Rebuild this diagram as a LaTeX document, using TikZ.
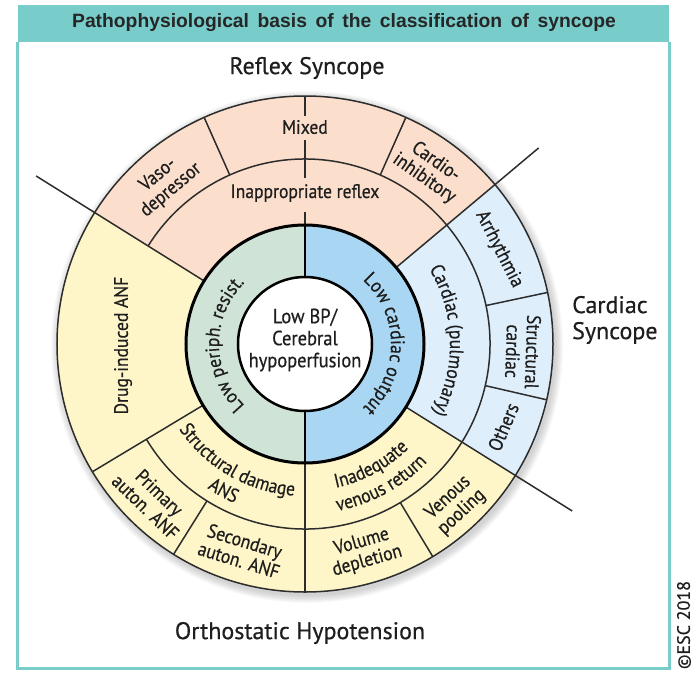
\documentclass[tikz,border=0pt]{standalone}
\usepackage{fontspec}
\setmainfont{PT Sans}
\newfontfamily\dfont{PT Sans}[FakeStretch=0.9, FakeBold=0.5]
\newfontfamily\hfont{PT Sans}[FakeBold=0.5]
\newfontfamily\tfont{Liberation Sans}[WordSpace=1.6]
\usetikzlibrary{decorations.text}
\definecolor{tealc}{RGB}{120,205,203}
\definecolor{peach}{RGB}{251,222,203}
\definecolor{yell}{RGB}{254,246,200}
\definecolor{lblue}{RGB}{222,239,251}
\definecolor{rgreen}{RGB}{207,228,214}
\definecolor{rblue}{RGB}{168,214,243}
\definecolor{linec}{RGB}{45,45,45}
\definecolor{txt}{RGB}{30,30,30}
\newcommand\lbl{\dfont\fontsize{19.5}{20}\selectfont}
\newcommand\hdg{\hfont\fontsize{24}{26}\selectfont}
\begin{document}
\begin{tikzpicture}[x=1pt,y=1pt,
  ln/.style={draw=linec, line width=1.5pt},
  thk/.style={draw=black, line width=3pt},
  lab/.style={text=txt, font=\lbl, align=center, inner sep=0pt},
  hd/.style={text=txt, font=\hdg, align=center, inner sep=0pt},
  curv/.style={decorate, decoration={text along path, text align=center, text color=txt, text={|\lbl|#1}}}
]
\def\Rz{67pt}\def\Ra{119pt}\def\Rb{185pt}\def\Rc{248pt}
\useasboundingbox (-305,-342) rectangle (393,344);
% frame and title bar
\fill[tealc] (-287,302) rectangle (364,339);
\draw[tealc, line width=3pt] (-287,302) -- (-287,-324) -- (364,-324) -- (364,302);
\node[font=\tfont\bfseries\fontsize{19.3}{20}\selectfont, text=black!85] (title) at (39,321) {Pathophysiological basis of the classification of syncope};
% shadow
\foreach \i in {1,...,8} {\fill[black,opacity=0.022] (2pt,-3pt) circle ({(248+\i)*1pt});}
% sector fills
\fill[peach] (40:\Ra) -- (40:\Rc) arc[start angle=40,end angle=148,radius=\Rc] -- (148:\Ra) arc[start angle=148,end angle=40,radius=\Ra] -- cycle;
\fill[yell] (148:\Ra) -- (148:\Rc) arc[start angle=148,end angle=328,radius=\Rc] -- (328:\Ra) arc[start angle=328,end angle=148,radius=\Ra] -- cycle;
\fill[lblue] (-32:\Ra) -- (-32:\Rc) arc[start angle=-32,end angle=40,radius=\Rc] -- (40:\Ra) arc[start angle=40,end angle=-32,radius=\Ra] -- cycle;
\fill[rgreen] (90:\Ra) arc[start angle=90,end angle=270,radius=\Ra] -- cycle;
\fill[rblue] (270:\Ra) arc[start angle=270,end angle=450,radius=\Ra] -- cycle;
\fill[white] (0,0) circle (\Rz);
% outer circle and middle arcs
\draw[ln] (0,0) circle (\Rc);
\draw[ln] (211:\Rb) arc[start angle=211,end angle=508,radius=\Rb];
% main radial lines
\draw[ln] (148:\Ra) -- (148:317pt);
\draw[ln] (40:\Ra) -- (40:305pt);
\draw[ln] (-32:\Ra) -- (-32:315pt);
\draw[ln] (211:\Ra) -- (211:\Rc);
% vertical lines
\draw[ln] (90:\Ra) -- (90:132pt);
\draw[ln] (90:166pt) -- (90:204pt);
\draw[ln] (90:228pt) -- (90:\Rc);
\draw[ln] (270:\Ra) -- (270:\Rc);
\draw[draw=black, line width=2pt] (90:\Rz) -- (90:\Ra);
\draw[draw=black, line width=2pt] (270:\Rz) -- (270:\Ra);
% outer ring dividers
\foreach \a in {114,66,12,-13,238,301} {\draw[ln] (\a:\Rb) -- (\a:\Rc);}
% thick circles
\draw[thk] (0,0) circle (\Ra);
\draw[draw=black, line width=2.5pt] (0,0) circle (\Rz);
% headings
\node[hd] (reflex) at (2,276) {Reflex Syncope};
\node[hd, align=left, anchor=west] (cardiac) at (267,24) {Cardiac\\Syncope};
\node[hd] (ortho) at (-5,-289) {Orthostatic Hypotension};
\node[text=txt, font=\hfont\fontsize{18}{20}\selectfont, rotate=90, inner sep=0pt] (esc) at (379,-281) {\textcopyright ESC 2018};
% center
\node[lab, font=\dfont\fontsize{20.5}{22}\selectfont] (center) at (0,4) {Low BP/\\Cerebral\\hypoperfusion};
% straight labels
\node[lab] (mixed) at (90:217pt) {Mixed};
\node[lab] (inapp) at (90:151pt) {Inappropriate reflex};
\node[lab, rotate=40] (vaso) at (131:214pt) {Vaso-\\depressor};
\node[lab, rotate=-35] (cardio) at (54.3:214pt) {Cardio-\\inhibitory};
\node[lab, rotate=-63] (arr) at (26:216pt) {Arrhythmia};
\node[lab, rotate=-92] (struc) at (-2:218pt) {Structural\\cardiac};
\node[lab, rotate=67] (others) at (-22.7:215pt) {Others};
\node[lab, rotate=90] (drug) at (180.5:182pt) {Drug-induced ANF};
\node[lab, rotate=-44] (prim) at (225.6:218pt) {Primary\\auton. ANF};
\node[lab, rotate=-17] (second) at (253:216pt) {Secondary\\auton. ANF};
\node[lab, rotate=16] (volume) at (286:216pt) {Volume\\depletion};
\node[lab, rotate=43] (pool) at (313:220pt) {Venous\\pooling};
% curved labels
\path[curv={Low periph. resist.}] (232:86pt) arc[start angle=232,end angle=128,radius=86pt];
\path[curv={Low cardiac output}] (52:86pt) arc[start angle=52,end angle=-52,radius=86pt];
\path[curv={Cardiac (pulmonary)}] (48:145pt) arc[start angle=48,end angle=-45,radius=145pt];
\path[curv={Structural damage}] (194:152pt) arc[start angle=194,end angle=286,radius=152pt];
\path[curv={ANS}] (215:174pt) arc[start angle=215,end angle=267,radius=174pt];
\path[curv={Inadequate}] (258:147pt) arc[start angle=258,end angle=339,radius=147pt];
\path[curv={venous return}] (258:170pt) arc[start angle=258,end angle=339,radius=170pt];
\end{tikzpicture}
\end{document}
